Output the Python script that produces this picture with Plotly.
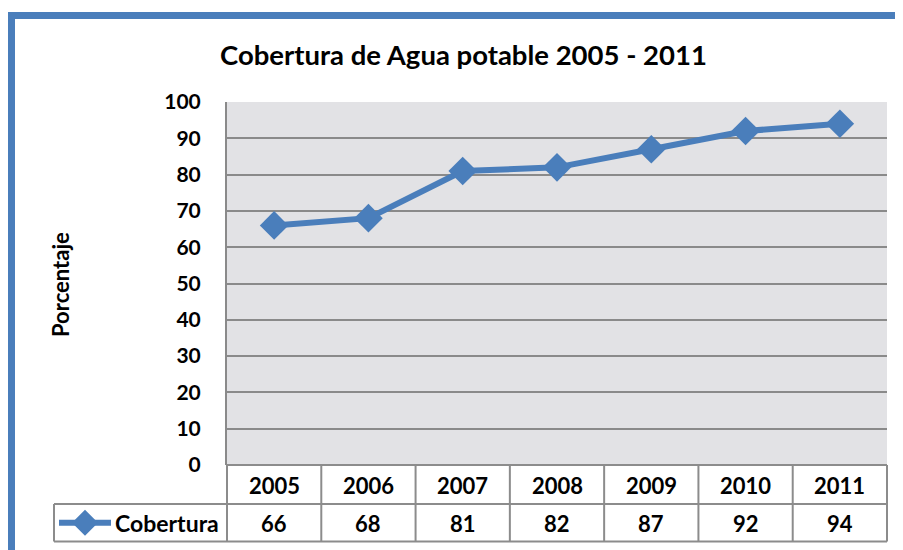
import plotly.graph_objects as go

years = ["2005", "2006", "2007", "2008", "2009", "2010", "2011"]
cobertura = [66, 68, 81, 82, 87, 92, 94]
series_name = "Cobertura"
title_text = "Cobertura de Agua potable 2005 - 2011"
y_title = "Porcentaje"

# page body has an 8px margin -> work in reference pixels, shift the figure
OFF = 8
W, H = 903 - OFF, 550 - OFF
L, R, T, B = 227, 887, 102, 465   # plot area in reference pixels
BLUE = "#4A7EBB"
GRID = "#8A8A8A"
FONT = "Lato"

def px(x):
    return (x - L) / (R - L)

def py(y):
    return (B - y) / (B - T)

fig = go.Figure()
fig.add_trace(go.Scatter(
    x=list(range(len(years))), y=cobertura, mode="lines+markers",
    line=dict(color=BLUE, width=6),
    marker=dict(symbol="diamond", size=22, color=BLUE),
    showlegend=False, hoverinfo="skip",
))

shapes = []
shapes.append(dict(type="rect", xref="paper", yref="paper",
                   x0=px(11.5), x1=px(960), y0=py(15.5), y1=py(620),
                   line=dict(color=BLUE, width=7), fillcolor="rgba(0,0,0,0)", layer="below"))
shapes.append(dict(type="rect", xref="paper", yref="paper", x0=0, x1=1, y0=0, y1=1,
                   line=dict(width=0), fillcolor="#E2E2E5", layer="below"))

tl = dict(color="#8C8C8C", width=2)
row1, row2 = 504, 541.5
shapes.append(dict(type="line", xref="paper", yref="paper", x0=0, x1=1, y0=py(B), y1=py(B), line=tl))
shapes.append(dict(type="line", xref="paper", yref="paper", x0=px(54), x1=1, y0=py(row1), y1=py(row1), line=tl))
shapes.append(dict(type="line", xref="paper", yref="paper", x0=px(54), x1=1, y0=py(row2), y1=py(row2), line=tl))
shapes.append(dict(type="line", xref="paper", yref="paper", x0=px(54), x1=px(54), y0=py(row1), y1=py(row2), line=tl))
for i in range(len(years) + 1):
    xv = i / len(years)
    shapes.append(dict(type="line", xref="paper", yref="paper", x0=xv, x1=xv, y0=py(B), y1=py(row2), line=tl))
ly = (row1 + row2) / 2
shapes.append(dict(type="line", xref="paper", yref="paper", x0=px(59), x1=px(111), y0=py(ly), y1=py(ly),
                   line=dict(color=BLUE, width=6)))
cx = 85
shapes.append(dict(type="path", xref="paper", yref="paper",
                   path=f"M {px(cx-13)},{py(ly)} L {px(cx)},{py(ly-13)} L {px(cx+13)},{py(ly)} L {px(cx)},{py(ly+13)} Z",
                   fillcolor=BLUE, line=dict(color=BLUE, width=0)))

annotations = []
for i, (yr, v) in enumerate(zip(years, cobertura)):
    annotations.append(dict(x=i, xref="x", y=py(485.5), yref="paper", text=f"<b>{yr}</b>",
                            xanchor="center", yanchor="middle",
                            showarrow=False, font=dict(family=FONT, size=22, color="black")))
    annotations.append(dict(x=i, xref="x", y=py(523), yref="paper", text=f"<b>{v}</b>",
                            xanchor="center", yanchor="middle",
                            showarrow=False, font=dict(family=FONT, size=22, color="black")))
annotations.append(dict(x=px(221), xref="paper", y=py(523), yref="paper", text=f"<b>{series_name}</b>",
                        xanchor="right", yanchor="middle",
                        showarrow=False, font=dict(family=FONT, size=23, color="black")))
annotations.append(dict(x=px(60), xref="paper", y=py(285), yref="paper", text=f"<b>{y_title}</b>",
                        xanchor="center", yanchor="middle",
                        textangle=-90, showarrow=False, font=dict(family=FONT, size=22, color="black")))
annotations.append(dict(x=px(463), xref="paper", y=py(55), yref="paper", text=f"<b>{title_text}</b>",
                        xanchor="center", yanchor="middle",
                        showarrow=False, font=dict(family=FONT, size=27.5, color="black")))

fig.update_layout(
    width=W, height=H,
    margin=dict(l=L - OFF, r=W - (R - OFF), t=T - OFF, b=H - (B - OFF), pad=0),
    paper_bgcolor="white", plot_bgcolor="rgba(0,0,0,0)",
    shapes=shapes, annotations=annotations,
    xaxis=dict(range=[-0.5, 6.5], showticklabels=False, showgrid=False, zeroline=False,
               showline=False, fixedrange=True),
    yaxis=dict(range=[0, 100], tickvals=list(range(0, 101, 10)), showgrid=True, gridcolor=GRID,
               gridwidth=2, zeroline=False, showline=True, linecolor=GRID, linewidth=2,
               ticks="outside", ticklen=20, tickcolor="rgba(0,0,0,0)",
               tickfont=dict(family=FONT, size=21, color="black", weight="bold")),
    showlegend=False,
)

fig.write_html("out.html")
